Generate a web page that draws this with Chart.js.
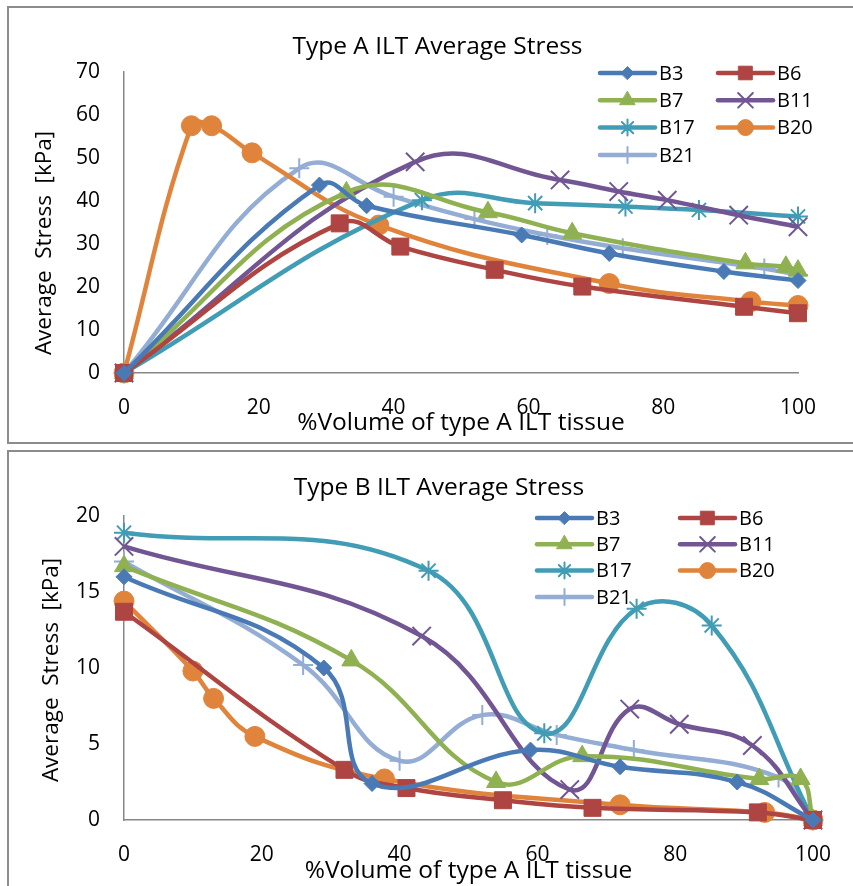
<!DOCTYPE html>
<html>
<head>
<meta charset="utf-8">
<title>ILT Average Stress</title>
<script src="https://cdn.jsdelivr.net/npm/chart.js@4.4.1/dist/chart.umd.min.js"></script>
<style>
  html, body { margin: 0; padding: 0; background: #fff; overflow: hidden; }
  body { width: 853px; height: 886px; position: relative; }
  .frame { position: absolute; left: 7px; width: 880px; border: 2px solid #8c8c8c; border-right: none; }
  #frameA { top: 6px; height: 434px; }
  #frameB { top: 450px; height: 460px; border-bottom: none; }
  canvas { position: absolute; left: 0; }
  #chartA { top: 0; }
  #chartB { top: 443px; }
</style>
</head>
<body>
<div class="frame" id="frameA"></div>
<div class="frame" id="frameB"></div>
<canvas id="chartA" width="853" height="443"></canvas>
<canvas id="chartB" width="853" height="443"></canvas>
<script>
// Average stress in the ILT, split by tissue type, per patient model

const seriesNames = ['B3', 'B6', 'B7', 'B11', 'B17', 'B20', 'B21'];
const xTicks = [0, 20, 40, 60, 80, 100];
const yTicksA = [0, 10, 20, 30, 40, 50, 60, 70];
const yTicksB = [0, 5, 10, 15, 20];

// % volume of type A ILT tissue
const volB3  = [0, 29, 36, 59, 72, 89, 100];
const volB6  = [0, 32, 41, 55, 68, 92, 100];
const volB7  = [0, 33, 54, 66.5, 92.2, 98.2, 100];
const volB11 = [0, 43.2, 64.7, 73.4, 80.6, 91.2, 100];
const volB17 = [0, 44.2, 61, 74.4, 85.3, 100];
const volB20 = [0, 10, 13, 19, 37.8, 72, 93, 100];
const volB21 = [0, 26, 40, 52, 62.8, 74, 95, 100];

// type A ILT average stress [kPa]
const typeA_B3  = [0, 43.7, 38.9, 32.1, 27.8, 23.6, 21.5];
const typeA_B6  = [0, 34.8, 29.4, 24.0, 20.1, 15.4, 13.9];
const typeA_B7  = [0, 42.0, 37.4, 32.5, 25.5, 24.7, 23.8];
const typeA_B11 = [0, 49.1, 44.9, 42.2, 40.2, 36.7, 34.0];
const typeA_B17 = [0, 40.2, 39.5, 38.7, 37.9, 36.4];
const typeA_B20 = [0, 57.5, 57.5, 51.2, 34.4, 20.8, 16.6, 15.7];
const typeA_B21 = [0, 47.6, 41.0, 35.8, 32.1, 29.0, 24.3, 22.8];

// type B ILT average stress [kPa]
const typeB_B3  = [16.0, 10.0, 2.4, 4.6, 3.5, 2.5, 0];
const typeB_B6  = [13.7, 3.3, 2.1, 1.3, 0.8, 0.5, 0];
const typeB_B7  = [16.7, 10.5, 2.5, 4.2, 2.7, 2.7, 0];
const typeB_B11 = [18.0, 12.1, 2.0, 7.3, 6.3, 4.9, 0];
const typeB_B17 = [18.9, 16.4, 5.7, 13.9, 12.8, 0];
const typeB_B20 = [14.4, 9.8, 8.0, 5.5, 2.7, 1.0, 0.5, 0];
const typeB_B21 = [17.0, 10.2, 3.9, 6.9, 5.6, 4.6, 2.8, 0];

const volumes = [volB3, volB6, volB7, volB11, volB17, volB20, volB21];
const typeAValues = [typeA_B3, typeA_B6, typeA_B7, typeA_B11, typeA_B17, typeA_B20, typeA_B21];
const typeBValues = [typeB_B3, typeB_B6, typeB_B7, typeB_B11, typeB_B17, typeB_B20, typeB_B21];

// line colour and marker for each model
const seriesStyles = [
    { color: '#4A7AB5', marker: 'rectRot',  radius: 8,  markerWidth: 1 },
    { color: '#AE4542', marker: 'rect',     radius: 12, markerWidth: 1 },
    { color: '#8FB151', marker: 'triangle', radius: 11, markerWidth: 1 },
    { color: '#725694', marker: 'crossRot', radius: 13, markerWidth: 2 },
    { color: '#419CB5', marker: 'star',     radius: 10, markerWidth: 2 },
    { color: '#E0843C', marker: 'circle',   radius: 10, markerWidth: 1 },
    { color: '#93ADD4', marker: 'cross',    radius: 10, markerWidth: 2 }
];

const FONT = '"Open Sans", Lato, sans-serif';
Chart.defaults.font.family = FONT;
Chart.defaults.color = '#000';

function makeDataset(i, values) {
    const style = seriesStyles[i];
    return {
        label: seriesNames[i],
        data: volumes[i].map((v, k) => ({ x: v, y: values[k] })),
        borderColor: style.color,
        backgroundColor: style.color,
        borderWidth: 4.5,
        tension: 0.42,
        clip: false,
        pointStyle: style.marker,
        pointRadius: style.radius,
        pointBackgroundColor: style.color,
        pointBorderColor: style.color,
        pointBorderWidth: style.markerWidth
    };
}

// Legend drawn inside the plot, two columns
const cornerLegend = {
    id: 'cornerLegend',
    afterDraw(chart, args, opts) {
        const ctx = chart.ctx;
        ctx.save();
        chart.data.datasets.forEach((ds, i) => {
            const x0 = opts.x + (i % 2) * opts.colGap;
            const y = opts.y + Math.floor(i / 2) * opts.rowGap;
            ctx.strokeStyle = ds.borderColor;
            ctx.lineWidth = ds.borderWidth;
            ctx.lineCap = 'round';
            ctx.beginPath();
            ctx.moveTo(x0, y);
            ctx.lineTo(x0 + opts.lineLen, y);
            ctx.stroke();

            ctx.fillStyle = ds.pointBackgroundColor;
            ctx.strokeStyle = ds.pointBorderColor;
            ctx.lineWidth = ds.pointBorderWidth;
            Chart.helpers.drawPoint(ctx, {
                pointStyle: ds.pointStyle,
                radius: ds.pointRadius * 0.8,
                rotation: 0,
                borderWidth: ds.pointBorderWidth
            }, x0 + opts.lineLen / 2, y);

            ctx.fillStyle = '#000';
            ctx.font = opts.font;
            ctx.textAlign = 'left';
            ctx.textBaseline = 'middle';
            ctx.fillText(ds.label, x0 + opts.lineLen + opts.textGap, y + 1);
        });
        ctx.restore();
    }
};

// Rotated y-axis caption
const yCaption = {
    id: 'yCaption',
    afterDraw(chart, args, opts) {
        const ctx = chart.ctx;
        ctx.save();
        ctx.translate(opts.x, opts.y);
        ctx.rotate(-Math.PI / 2);
        ctx.font = opts.font;
        ctx.fillStyle = '#000';
        ctx.textAlign = 'center';
        ctx.textBaseline = 'middle';
        ctx.fillText(opts.text, 0, 0);
        ctx.restore();
    }
};

function buildChart(canvasId, cfg) {
    return new Chart(document.getElementById(canvasId), {
        type: 'line',
        data: { datasets: seriesNames.map((n, i) => makeDataset(i, cfg.values[i])) },
        options: {
            responsive: false,
            animation: false,
            layout: { padding: { left: cfg.padLeft, right: cfg.padRight, top: 0, bottom: 0 } },
            plugins: {
                legend: { display: false },
                tooltip: { enabled: false },
                title: {
                    display: true,
                    text: cfg.title,
                    font: { size: 24.5, weight: 'normal' },
                    color: '#000',
                    padding: { top: cfg.titleTop, bottom: cfg.titleBottom }
                },
                cornerLegend: cfg.legend,
                yCaption: {
                    text: 'Average  Stress  [kPa]',
                    x: cfg.yCaptionX,
                    y: cfg.yCaptionY,
                    font: '22.5px ' + FONT
                }
            },
            scales: {
                x: {
                    type: 'linear',
                    min: xTicks[0],
                    max: xTicks[xTicks.length - 1],
                    afterFit: s => { s.height = cfg.xHeight; },
                    afterBuildTicks: s => { s.ticks = xTicks.map(v => ({ value: v })); },
                    ticks: { padding: 22, font: { size: 21 }, color: '#000' },
                    grid: { display: false, drawTicks: false },
                    border: { color: '#878787', width: 1.5 },
                    title: {
                        display: true,
                        text: '%Volume of type A ILT tissue',
                        font: { size: 24.5 },
                        color: '#000',
                        padding: { top: 0, bottom: cfg.xTitlePad }
                    }
                },
                y: {
                    min: cfg.yTicks[0],
                    max: cfg.yTicks[cfg.yTicks.length - 1],
                    afterFit: s => { s.width = 124 - cfg.padLeft; },
                    afterBuildTicks: s => { s.ticks = cfg.yTicks.map(v => ({ value: v })); },
                    ticks: { padding: 24, font: { size: 21 }, color: '#000' },
                    grid: { display: false, drawTicks: false },
                    border: { color: '#878787', width: 1.5 }
                }
            }
        },
        plugins: [cornerLegend, yCaption]
    });
}

buildChart('chartA', {
    title: 'Type A ILT Average Stress',
    values: typeAValues,
    yTicks: yTicksA,
    padLeft: 77,
    padRight: 55,
    titleTop: 32.3,
    titleBottom: 10.3,
    xHeight: 70,
    xTitlePad: 5.3,
    yCaptionX: 45,
    yCaptionY: 243,
    legend: { x: 600, y: 73, colGap: 118, rowGap: 27.3, lineLen: 55, textGap: 4, font: '20px ' + FONT }
});

buildChart('chartB', {
    title: 'Type B ILT Average Stress',
    values: typeBValues,
    yTicks: yTicksB,
    padLeft: 60,
    padRight: 35,
    titleTop: 30.3,
    titleBottom: 13.3,
    xHeight: 66,
    xTitlePad: 0,
    yCaptionX: 52,
    yCaptionY: 227,
    legend: { x: 537, y: 75, colGap: 143, rowGap: 26.3, lineLen: 55, textGap: 4, font: '20px ' + FONT }
});
</script>
</body>
</html>
